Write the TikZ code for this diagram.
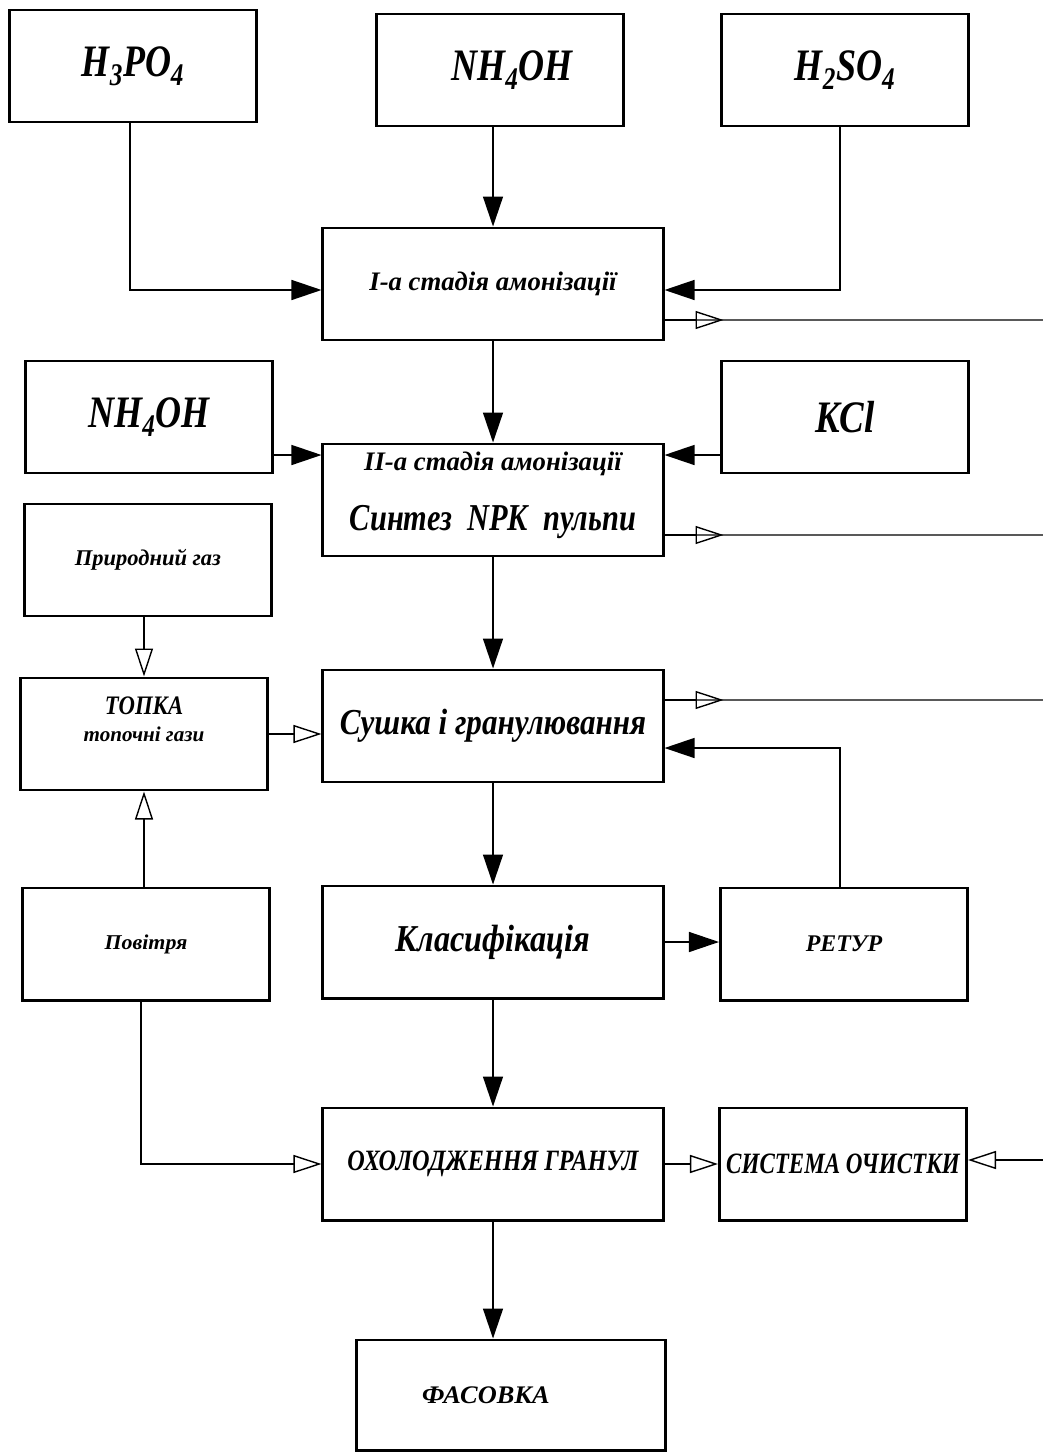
\documentclass[tikz,border=0pt]{standalone}
\usepackage{fontspec}
\usepackage{graphicx}
\setmainfont{Liberation Serif}
\usetikzlibrary{arrows.meta}
\newcommand{\sq}[2]{\scalebox{#1}[1]{#2}}
\newcommand{\fs}[1]{\fontsize{#1}{#1}\selectfont}
\begin{document}
\begin{tikzpicture}[x=0.025cm,y=-0.025cm,
  box/.style={draw, line width=2.1pt, inner sep=0pt, align=center, font=\bfseries\itshape},
  nbox/.style={box, minimum width=6.175cm, minimum height=2.8cm},
  wbox/.style={box, minimum width=8.5cm, minimum height=2.8cm},
  conn/.style={line width=1pt},
  fa/.style={conn, -{Triangle[length=0.75cm,width=0.5cm]}},
  oa/.style={conn, -{Triangle[open,length=0.7cm,width=0.45cm,line width=1pt]}}]
\useasboundingbox (0,0) rectangle (1043,1452);

\node[nbox] (h3) at (133,66) {\fs{32}\sq{0.8}{H\textsubscript{3}PO\textsubscript{4}}};
\node[nbox] (nh1) at (500,70) {\hspace*{0.6cm}\fs{32}\sq{0.8}{NH\textsubscript{4}OH}};
\node[nbox] (h2) at (845,70) {\fs{32}\sq{0.8}{H\textsubscript{2}SO\textsubscript{4}}};
\node[wbox] (st1) at (493,284) {\fs{19}\sq{1.0}{I-а стадія амонізації}};
\node[nbox] (nh2) at (149,417) {\fs{32}\sq{0.8}{NH\textsubscript{4}OH}};
\node[nbox] (kcl) at (845,417) {\fs{32}\sq{0.82}{KCl}};
\node[wbox] (st2) at (493,500) {\raisebox{0.035cm}[0pt][0pt]{\begin{tabular}{@{}c@{}}\fs{19}\sq{1.0}{II-а стадія амонізації}\\[0.75cm]\fs{27}\sq{0.8}{Синтез\ \ NPK\ \ пульпи}\end{tabular}}};
\node[nbox] (gas) at (148,560) {\fs{16}\sq{1.0}{Природний газ}};
\node[nbox] (topka) at (144,734) {\raisebox{0.22cm}[0pt][0pt]{\begin{tabular}{@{}c@{}}\fs{19}\sq{0.85}{ТОПКА}\\[0.2cm]\fs{15}\sq{1.0}{топочні гази}\end{tabular}}};
\node[wbox] (dry) at (493,726) {\fs{26}\sq{0.85}{Сушка і гранулювання}};
\node[wbox] (cls) at (493,942) {\fs{27}\sq{0.85}{Класифікація}};
\node[nbox] (ret) at (844,944) {\fs{17}\sq{1.0}{РЕТУР}};
\node[nbox] (air) at (146,944) {\fs{15}\sq{1.04}{Повітря}};
\node[wbox] (cool) at (493,1164) {\fs{21}\sq{0.82}{ОХОЛОДЖЕННЯ ГРАНУЛ}};
\node[nbox] (clean) at (843,1164) {\fs{21}\sq{0.78}{СИСТЕМА ОЧИСТКИ}};
\node[box, minimum width=7.725cm, minimum height=2.75cm] (pack) at (511,1395) {\fs{18}\sq{1.04}{ФАСОВКА}\hspace*{1.25cm}};

\coordinate (o1) at (1043,320);
\coordinate (o2) at (1043,535);
\coordinate (o3) at (1043,700);
\coordinate (o4) at (1043,1160);

% top feeds
\draw[fa] ([xshift=-0.075cm]h3.south) |- ([yshift=-0.15cm]st1.west);
\draw[fa] (st1.north |- nh1.south) -- (st1.north);
\draw[fa] ([xshift=-0.125cm]h2.south) |- ([yshift=-0.15cm]st1.east);
% outputs to the right
\draw[conn] ([yshift=-0.9cm]st1.east) -- (o1);
\draw[oa] ([yshift=-0.9cm]st1.east) -- ++(59,0);
\draw[conn] ([yshift=-0.875cm]st2.east) -- (o2);
\draw[oa] ([yshift=-0.875cm]st2.east) -- ++(59,0);
\draw[conn] ([yshift=0.65cm]dry.east) -- (o3);
\draw[oa] ([yshift=0.65cm]dry.east) -- ++(59,0);
% main chain
\draw[fa] (st1.south) -- (st2.north);
\draw[fa] ([yshift=-0.95cm]nh2.east) -- ([yshift=-0.95cm]nh2.east -| st2.west);
\draw[fa] ([yshift=-0.95cm]kcl.west) -- ([yshift=-0.95cm]kcl.west -| st2.east);
\draw[fa] (st2.south) -- (dry.north);
\draw[oa] (topka.north |- gas.south) -- (topka.north);
\draw[oa] (topka.east) -- (topka.east -| dry.west);
\draw[fa] ([xshift=-0.1cm]ret.north) |- ([yshift=-0.55cm]dry.east);
\draw[fa] (dry.south) -- (cls.north);
\draw[fa] (cls.east) -- (cls.east -| ret.west);
\draw[oa] (topka.south |- air.north) -- (topka.south);
\draw[oa] ([xshift=-0.125cm]air.south) |- (cool.west);
\draw[fa] (cls.south) -- (cool.north);
\draw[oa] (cool.east) -- (cool.east -| clean.west);
\draw[oa] (o4) -- (o4 -| clean.east);
\draw[fa] (cool.south) -- (cool.south |- pack.north);
\end{tikzpicture}
\end{document}
